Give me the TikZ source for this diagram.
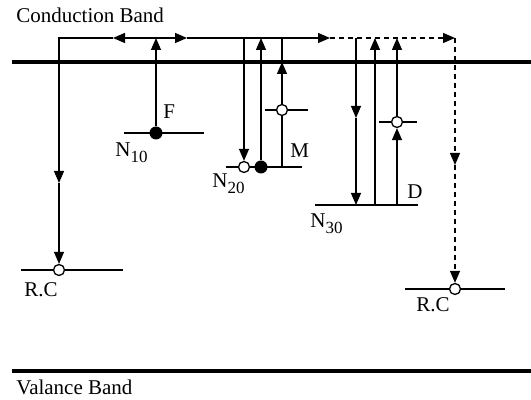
\documentclass[tikz,border=0pt]{standalone}
\usepackage{fontspec}
\setmainfont{Liberation Serif}
\usetikzlibrary{arrows.meta}
\tikzset{
  flow/.style={line width=0.65pt},
  band/.style={line width=1.7pt},
  level/.style={line width=0.65pt},
  dashes/.style={dash pattern=on 2.5pt off 2pt},
  trap/.style={circle, draw, line width=0.65pt, fill=white, inner sep=0pt, minimum size=5.5pt},
  electron/.style={circle, fill=black, inner sep=0pt, minimum size=6.5pt},
  lbl/.style={font=\fontsize{10.5}{12}\selectfont, inner sep=0pt, anchor=base west},
}
\newcommand{\lvlname}[1]{N\raisebox{-0.6ex}{\fontsize{8.5}{9}\selectfont #1}}

\begin{document}
\begin{tikzpicture}[x=0.5pt, y=-0.5pt, >={Triangle[length=6pt,width=5pt]}]
  \useasboundingbox (0,0) rectangle (531,400);
  % band edges
  \coordinate (cb w) at (12,62);
  \coordinate (cb e) at (531,62);
  \coordinate (vb w) at (12,371);
  \coordinate (vb e) at (531,371);
  \draw[band] (cb w) -- (cb e);
  \draw[band] (vb w) -- (vb e);
  \node[lbl] (cb lbl) at (16,22.5) {Conduction Band};
  \node[lbl] (vb lbl) at (16,395) {Valance Band};
  % trap levels
  \draw[level] (21,270) -- (123,270);
  \draw[level] (124,133) -- (204,133);
  \draw[level] (226,167) -- (302,167);
  \draw[level] (265,110) -- (308,110);
  \draw[level] (315,205) -- (418,205);
  \draw[level] (379,122) -- (417,122);
  \draw[level] (405,289) -- (505,289);
  % centres
  \node[trap] (rc1) at (59,270) {};
  \node[electron] (e10) at (156,133) {};
  \node[trap] (t20) at (244,167) {};
  \node[electron] (e20) at (261,167) {};
  \node[trap] (tm) at (282,110) {};
  \node[trap] (td) at (397,122) {};
  \node[trap] (rc2) at (455,289) {};
  % labels
  \node[lbl] (f lbl) at (163,119) {F};
  \node[lbl] (n10 lbl) at (115,157) {\lvlname{10}};
  \node[lbl] (n20 lbl) at (212,188) {\lvlname{20}};
  \node[lbl] (m lbl) at (290,158) {M};
  \node[lbl] (n30 lbl) at (310,228) {\lvlname{30}};
  \node[lbl] (d lbl) at (407,199) {D};
  \node[lbl] (rc1 lbl) at (24,297) {R.C};
  \node[lbl] (rc2 lbl) at (416,312) {R.C};
  % path points
  \coordinate (top w) at (59,38);
  \coordinate (tip l) at (113,38);
  \coordinate (tip r) at (187,38);
  \coordinate (solid end) at (330,38);
  \coordinate (top e) at (455,38);
  \coordinate (left mid) at (59,183);
  \coordinate (f top) at (156,38);
  \coordinate (n20 down) at (244,38);
  \coordinate (n20 up) at (261,38);
  \coordinate (m top) at (282,38);
  \coordinate (m band) at (282,62);
  \coordinate (m base) at (282,167);
  \coordinate (n30 down) at (356,38);
  \coordinate (n30 mid) at (356,118);
  \coordinate (n30 low) at (356,205);
  \coordinate (n30 up top) at (375,38);
  \coordinate (n30 up base) at (375,205);
  \coordinate (d top) at (397,38);
  \coordinate (d base) at (397,205);
  \coordinate (dash mid) at (455,165);
  % transitions
  \draw[flow, ->] (tip l) -- (top w) -- (left mid);
  \draw[flow, ->] (left mid) -- (rc1);
  \draw[flow, <->] (tip l) -- (tip r);
  \draw[flow, ->] (tip r) -- (solid end);
  \draw[flow, dashes, ->] (solid end) -- (top e);
  \draw[flow, dashes, ->] (top e) -- (dash mid);
  \draw[flow, dashes, ->] (dash mid) -- (rc2);
  \draw[flow, ->] (e10) -- (f top);
  \draw[flow, ->] (n20 down) -- (t20);
  \draw[flow, ->] (e20) -- (n20 up);
  \draw[flow] (m top) -- (m band);
  \draw[flow, ->] (tm) -- (m band);
  \draw[flow] (m base) -- (tm);
  \draw[flow, ->] (n30 down) -- (n30 mid);
  \draw[flow, ->] (n30 mid) -- (n30 low);
  \draw[flow, ->] (n30 up base) -- (n30 up top);
  \draw[flow, ->] (d base) -- (td);
  \draw[flow, ->] (td) -- (d top);
\end{tikzpicture}
\end{document}
